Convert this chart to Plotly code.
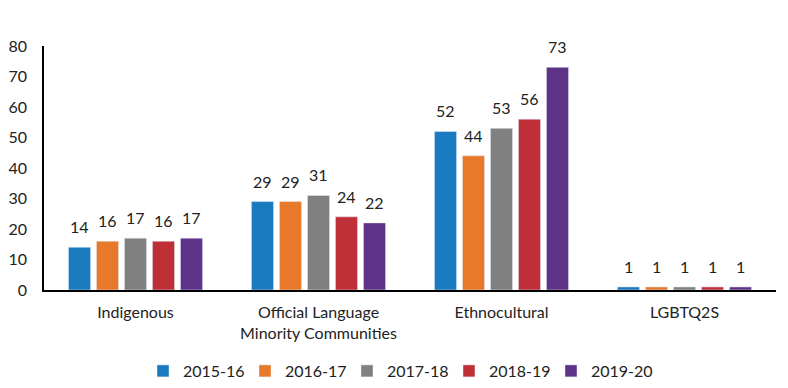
import plotly.graph_objects as go

categories = ["Indigenous", "Official Language<br>Minority Communities", "Ethnocultural", "LGBTQ2S"]
years = ["2015-16", "2016-17", "2017-18", "2018-19", "2019-20"]
values = {
    "2015-16": [14, 29, 52, 1],
    "2016-17": [16, 29, 44, 1],
    "2017-18": [17, 31, 53, 1],
    "2018-19": [16, 24, 56, 1],
    "2019-20": [17, 22, 73, 1],
}
colors = ["#1A7AC0", "#E8782A", "#808080", "#BE2F38", "#5D3287"]
y_ticks = [0, 10, 20, 30, 40, 50, 60, 70, 80]

FONT = "Lato, Open Sans, sans-serif"
TXT = "#222222"

fig = go.Figure()
for y, c in zip(years, colors):
    fig.add_trace(go.Bar(name=y, x=categories, y=values[y], marker_color=c))

# value labels above bars, offset to each bar's slot in the group
pitch = 28
for i, y in enumerate(years):
    for cat, v in zip(categories, values[y]):
        fig.add_annotation(x=cat, y=v, text=str(v), showarrow=False,
                           xshift=(i - 2) * pitch, yanchor="bottom", yshift=9,
                           font=dict(size=16, color=TXT, family=FONT))

fig.update_layout(
    width=780, height=380,
    margin=dict(l=36, r=12, t=38, b=98, autoexpand=False),
    paper_bgcolor="white", plot_bgcolor="white",
    barmode="group", bargap=0.235, bargroupgap=0.21,
    font=dict(family=FONT, size=16, color=TXT),
    showlegend=True,
    legend=dict(orientation="h", x=0.5, xanchor="center", xref="container",
                y=-0.006, yanchor="bottom", yref="container",
                font=dict(size=16), itemwidth=30, traceorder="normal",
                entrywidth=57, entrywidthmode="pixels"),
    xaxis=dict(showline=True, linecolor="black", linewidth=1.5, ticks="", showgrid=False,
               tickfont=dict(size=16), ticklabelstandoff=7, automargin=False),
    yaxis=dict(range=[0, 80], tickvals=y_ticks, showline=True, linecolor="black", linewidth=1.5,
               showgrid=False, ticks="", zeroline=False, tickfont=dict(size=16),
               ticklabelstandoff=12, automargin=False),
)

fig.write_html("out.html")
